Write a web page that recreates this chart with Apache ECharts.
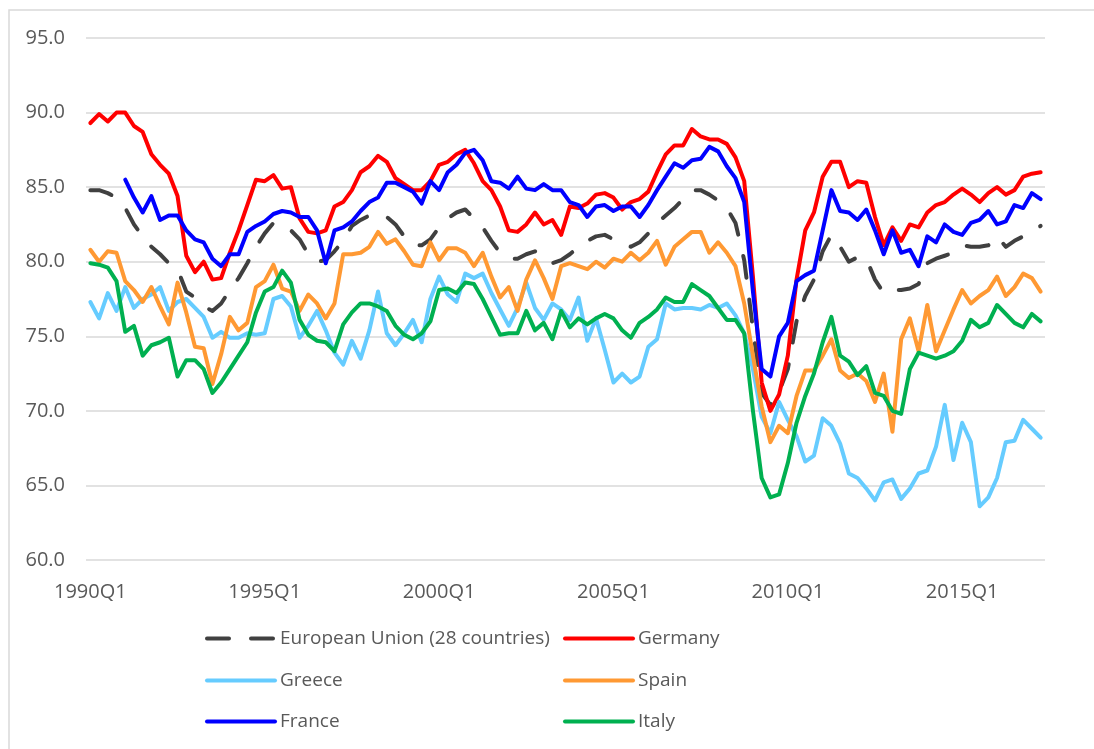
<!DOCTYPE html>
<html>
<head>
<meta charset="utf-8">
<title>Capacity utilisation</title>
<script src="https://cdn.jsdelivr.net/npm/echarts@6/dist/echarts.min.js"></script>
<style>
  html, body { margin: 0; padding: 0; background: #fff; }
  #chart { width: 1094px; height: 749px; }
</style>
</head>
<body>
<div id="chart"></div>
<script>
// quarters 1990Q1 .. 2017Q2
var quarters = [];
for (var y = 1990; y <= 2017; y++) {
    for (var q = 1; q <= 4; q++) {
        if (y === 2017 && q > 2) break;
        quarters.push(y + 'Q' + q);
    }
}

var yTicks = [60, 65, 70, 75, 80, 85, 90, 95];

var eu = [
    84.8, 84.8, 84.6, 84.3, 83.6, 82.5, 81.7, 81.0, 80.5, 79.9,
    79.5, 78.0, 77.6, 77.0, 76.7, 77.2, 78.1, 78.9, 79.9, 81.0,
    81.9, 82.6, 82.5, 82.1, 81.5, 80.5, 80.0, 80.1, 80.7, 81.4,
    82.4, 82.8, 83.1, 83.2, 83.0, 82.5, 81.7, 81.1, 81.1, 81.5,
    82.3, 82.9, 83.3, 83.5, 82.9, 82.3, 81.4, 80.6, 80.2, 80.2,
    80.5, 80.7, 80.2, 79.9, 80.1, 80.5, 81.0, 81.4, 81.7, 81.8,
    81.5, 81.3, 81.0, 81.3, 81.9, 82.6, 83.1, 83.6, 84.2, 84.8,
    84.8, 84.5, 84.1, 83.6, 82.6, 80.1, 75.5, 71.2, 70.4, 71.3,
    72.8, 76.0, 77.7, 78.8, 80.7, 81.8, 81.0, 80.0, 80.3, 80.2,
    78.8, 77.9, 78.1, 78.1, 78.2, 78.5, 79.9, 80.2, 80.4, 80.6,
    81.1, 81.0, 81.0, 81.1, 81.7, 81.0, 81.4, 81.7, 82.0, 82.4
];
var germany = [
    89.3, 89.9, 89.4, 90.0, 90.0, 89.1, 88.7, 87.2, 86.5, 85.9,
    84.4, 80.4, 79.3, 80.0, 78.8, 78.9, 80.6, 82.1, 83.8, 85.5,
    85.4, 85.8, 84.9, 85.0, 82.9, 82.0, 81.9, 82.1, 83.7, 84.0,
    84.8, 86.0, 86.4, 87.1, 86.7, 85.6, 85.2, 84.8, 84.8, 85.4,
    86.5, 86.7, 87.2, 87.5, 86.6, 85.4, 84.8, 83.7, 82.1, 82.0,
    82.5, 83.3, 82.5, 82.8, 81.8, 83.7, 83.6, 83.9, 84.5, 84.6,
    84.3, 83.5, 84.0, 84.2, 84.7, 86.0, 87.2, 87.8, 87.8, 88.9,
    88.4, 88.2, 88.2, 87.9, 87.0, 85.4, 79.0, 71.9, 70.0, 71.1,
    73.7, 78.8, 82.1, 83.3, 85.7, 86.7, 86.7, 85.0, 85.4, 85.3,
    83.0, 81.1, 82.3, 81.4, 82.5, 82.3, 83.3, 83.8, 84.0, 84.5,
    84.9, 84.5, 84.0, 84.6, 85.0, 84.5, 84.8, 85.7, 85.9, 86.0
];
var greece = [
    77.3, 76.2, 77.9, 76.7, 78.3, 76.9, 77.5, 77.8, 78.3, 76.7,
    77.3, 77.5, 76.9, 76.3, 74.9, 75.3, 74.9, 74.9, 75.2, 75.1,
    75.2, 77.5, 77.7, 77.0, 74.9, 75.7, 76.7, 75.4, 73.9, 73.1,
    74.7, 73.5, 75.4, 78.0, 75.2, 74.4, 75.2, 76.1, 74.6, 77.5,
    79.0, 77.8, 77.3, 79.2, 78.9, 79.2, 77.9, 76.8, 75.7, 76.9,
    78.6, 76.9, 76.1, 77.2, 76.8, 76.1, 77.6, 74.7, 76.2, 74.1,
    71.9, 72.5, 71.9, 72.3, 74.3, 74.8, 77.2, 76.8, 76.9, 76.9,
    76.8, 77.1, 76.9, 77.2, 76.4, 75.2, 72.8, 69.6, 68.5, 70.6,
    69.4, 68.3, 66.6, 67.0, 69.5, 69.0, 67.8, 65.8, 65.5, 64.8,
    64.0, 65.2, 65.4, 64.1, 64.8, 65.8, 66.0, 67.6, 70.4, 66.7,
    69.2, 67.9, 63.6, 64.2, 65.5, 67.9, 68.0, 69.4, 68.8, 68.2
];
var spain = [
    80.8, 80.0, 80.7, 80.6, 78.7, 78.1, 77.3, 78.3, 77.0, 75.8,
    78.6, 76.6, 74.3, 74.2, 71.8, 73.8, 76.3, 75.4, 75.9, 78.3,
    78.7, 79.8, 78.2, 78.0, 76.7, 77.8, 77.2, 76.2, 77.2, 80.5,
    80.5, 80.6, 81.0, 82.0, 81.2, 81.5, 80.7, 79.8, 79.7, 81.3,
    80.1, 80.9, 80.9, 80.6, 79.7, 80.6, 79.0, 77.6, 78.3, 76.7,
    78.8, 80.1, 78.9, 77.5, 79.7, 79.9, 79.7, 79.5, 80.0, 79.6,
    80.2, 80.0, 80.6, 80.1, 80.6, 81.4, 79.8, 81.0, 81.5, 82.0,
    82.0, 80.6, 81.3, 80.6, 79.7, 77.2, 73.7, 70.3, 67.9, 69.0,
    68.5, 71.0, 72.7, 72.7, 73.7, 74.8, 72.7, 72.2, 72.5, 72.0,
    70.6, 72.5, 68.6, 74.8, 76.2, 74.0, 77.1, 74.0, 75.4, 76.8,
    78.1, 77.2, 77.7, 78.1, 79.0, 77.7, 78.3, 79.2, 78.9, 78.0
];
var france = [
    null, null, null, null, 85.5, 84.3, 83.3, 84.4, 82.8, 83.1,
    83.1, 82.1, 81.5, 81.3, 80.2, 79.7, 80.5, 80.5, 82.0, 82.4,
    82.7, 83.2, 83.4, 83.3, 83.0, 83.0, 82.1, 79.9, 82.1, 82.3,
    82.7, 83.4, 84.0, 84.3, 85.3, 85.3, 85.0, 84.7, 83.9, 85.4,
    84.8, 86.0, 86.5, 87.3, 87.5, 86.8, 85.4, 85.3, 84.9, 85.7,
    84.9, 84.8, 85.2, 84.8, 84.8, 84.0, 83.8, 83.0, 83.7, 83.8,
    83.4, 83.7, 83.7, 83.0, 83.8, 84.8, 85.7, 86.6, 86.3, 86.8,
    86.9, 87.7, 87.4, 86.4, 85.6, 84.0, 78.0, 72.8, 72.3, 75.0,
    75.9, 78.7, 79.1, 79.4, 82.1, 84.8, 83.4, 83.3, 82.8, 83.5,
    82.1, 80.5, 82.1, 80.6, 80.8, 79.7, 81.7, 81.3, 82.5, 82.0,
    81.8, 82.6, 82.8, 83.4, 82.5, 82.7, 83.8, 83.6, 84.6, 84.2
];
var italy = [
    79.9, 79.8, 79.6, 78.7, 75.3, 75.7, 73.7, 74.4, 74.6, 74.9,
    72.3, 73.4, 73.4, 72.8, 71.2, 71.9, 72.8, 73.7, 74.6, 76.6,
    78.0, 78.3, 79.4, 78.6, 76.1, 75.1, 74.7, 74.6, 74.0, 75.8,
    76.6, 77.2, 77.2, 77.0, 76.7, 75.7, 75.1, 74.8, 75.2, 76.0,
    78.1, 78.2, 77.9, 78.6, 78.5, 77.5, 76.3, 75.1, 75.2, 75.2,
    76.7, 75.4, 75.9, 74.8, 76.7, 75.6, 76.2, 75.8, 76.2, 76.5,
    76.2, 75.4, 74.9, 75.9, 76.3, 76.8, 77.6, 77.3, 77.3, 78.5,
    78.1, 77.7, 76.9, 76.1, 76.1, 75.2, 70.0, 65.5, 64.2, 64.4,
    66.5, 69.2, 71.0, 72.5, 74.6, 76.3, 73.7, 73.3, 72.4, 73.0,
    71.2, 71.0, 70.0, 69.8, 72.8, 73.9, 73.7, 73.5, 73.7, 74.0,
    74.7, 76.1, 75.6, 75.9, 77.1, 76.5, 75.9, 75.6, 76.5, 76.0
];

var names = ['European Union (28 countries)', 'Germany', 'Greece', 'Spain', 'France', 'Italy'];
var colors = ['#404040', '#ff0000', '#66ccff', '#ff9933', '#0000ff', '#00b050'];
var values = [eu, germany, greece, spain, france, italy];

var fontName = 'Open Sans';
var textGray = '#595959';

var series = [];
for (var i = 0; i < names.length; i++) {
    series.push({
        name: names[i],
        type: 'line',
        data: values[i],
        symbol: 'none',
        showSymbol: false,
        connectNulls: false,
        animation: false,
        lineStyle: {
            color: colors[i],
            width: 4,
            cap: 'round',
            join: 'round',
            type: i === 0 ? [22, 22] : 'solid'
        },
        itemStyle: { color: colors[i] }
    });
}

// legend: two columns, three rows
var legendPos = [
    { left: 205, top: 629 }, { left: 563, top: 629 },
    { left: 205, top: 671 }, { left: 563, top: 671 },
    { left: 205, top: 712 }, { left: 563, top: 712 }
];
var legends = [];
for (var k = 0; k < names.length; k++) {
    legends.push({
        data: [names[k]],
        left: legendPos[k].left,
        top: legendPos[k].top,
        padding: 0,
        itemWidth: 68,
        itemHeight: 20,
        selectedMode: false,
        itemStyle: { opacity: 0 },
        lineStyle: { width: 4, cap: 'round' },
        textStyle: { fontFamily: fontName, fontSize: 19, color: textGray }
    });
}

var chart = echarts.init(document.getElementById('chart'), null, { renderer: 'canvas' });
chart.setOption({
    backgroundColor: '#ffffff',
    animation: false,
    graphic: [{
        type: 'rect',
        shape: { x: 9, y: 10, width: 1300, height: 900 },
        style: { fill: 'none', stroke: '#d9d9d9', lineWidth: 1.5 },
        silent: true
    }],
    legend: legends,
    grid: { left: 86, right: 49, top: 38, bottom: 189, containLabel: false },
    xAxis: {
        type: 'category',
        data: quarters,
        boundaryGap: true,
        axisLine: { show: false },
        axisTick: { show: false },
        axisLabel: {
            interval: 19,
            margin: 22,
            fontFamily: fontName,
            fontSize: 20,
            color: textGray
        },
        splitLine: { show: false }
    },
    yAxis: {
        type: 'value',
        min: yTicks[0],
        max: yTicks[yTicks.length - 1],
        interval: 5,
        axisLine: { show: false },
        axisTick: { show: false },
        axisLabel: {
            margin: 21,
            fontFamily: fontName,
            fontSize: 20,
            color: textGray,
            formatter: function (v) { return v.toFixed(1); }
        },
        splitLine: { lineStyle: { color: '#d9d9d9', width: 1.5 } }
    },
    series: series
});
</script>
</body>
</html>
